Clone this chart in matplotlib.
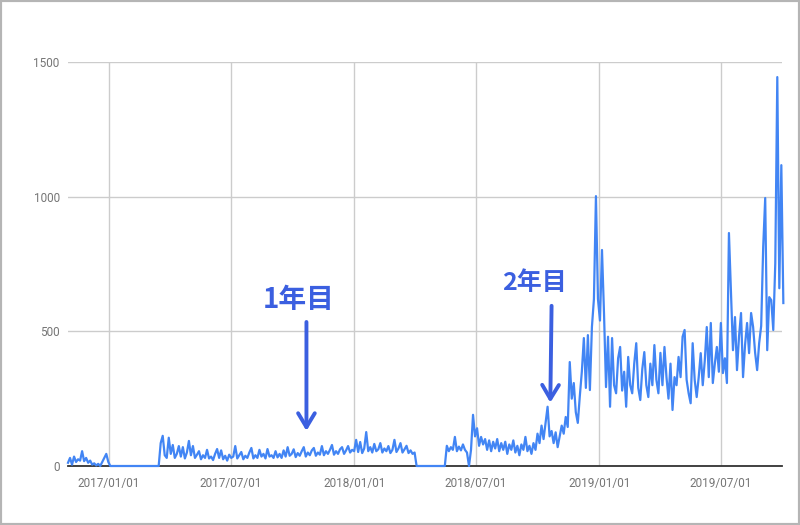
import pandas as pd
import matplotlib
matplotlib.use('Agg')
import matplotlib.pyplot as plt
import matplotlib.dates as mdates
from matplotlib.patches import Rectangle

# daily page views, every 3 days starting 2016-11-01
start = '2016-11-01'
step = '3D'

# late 2016, first try
seg_a = [12, 30, 5, 35, 15, 25, 20, 55, 18, 30, 12, 20, 5, 10, 2, 8, 0, 15, 30, 45, 15]
gap_1 = [0] * 25   # nothing until mid March 2017
# first year
seg_b = [85, 112, 40, 30, 105, 45, 78, 30, 45, 74, 35, 70, 28, 50, 93, 40, 74, 30, 42, 55,
         25, 40, 30, 60, 28, 35, 22, 45, 63, 30, 58, 25, 38, 20, 42, 30, 35, 74, 28, 40,
         52, 25, 38, 30, 50, 67, 28, 40, 30, 60, 35, 45, 28, 63, 35, 40, 30, 55, 32, 45,
         30, 58, 35, 70, 38, 45, 62, 33, 48, 38, 55, 70, 35, 50, 40, 58, 67, 38, 50, 42,
         74, 40, 55, 45, 60, 78, 42, 55, 45, 62, 70, 45, 58, 74, 50, 60, 55, 97, 52, 89,
         48, 65, 126, 55, 70, 50, 82, 55, 62, 85, 50, 65, 55, 74, 48, 60, 97, 52, 65, 85,
         50, 62, 75, 48, 58, 45, 50]
gap_2 = [0] * 15   # April - May 2018 gap
# second year onwards
seg_c = [75, 55, 70, 60, 108, 55, 72, 58, 80, 60, 50, 0, 60, 190, 110, 140, 75, 108, 80, 100,
         60, 95, 55, 90, 65, 100, 55, 85, 60, 90, 45, 80, 60, 95, 50, 75, 40, 80, 60, 108,
         55, 75, 45, 85, 60, 120, 85, 150, 100, 160, 220, 110, 130, 85, 125, 70, 110, 150, 120, 182,
         145, 386, 250, 308, 200, 160, 260, 350, 475, 290, 486, 282, 516, 620, 1002, 620, 540, 802, 568, 293,
         480, 220, 475, 300, 270, 400, 442, 280, 350, 220, 405, 300, 270, 380, 456, 290, 245, 360, 423, 300,
         256, 380, 300, 449, 320, 270, 420, 300, 442, 330, 250, 380, 208, 330, 300, 405, 330, 480, 505, 320,
         270, 233, 456, 320, 256, 330, 419, 300, 390, 516, 330, 531, 308, 380, 442, 350, 531, 345, 400, 308,
         865, 642, 430, 553, 356, 480, 568, 330, 450, 531, 419, 568, 516, 420, 356, 456, 520, 813, 995, 430,
         627, 616, 505, 753, 1444, 660, 1117, 605]

values = seg_a + gap_1 + seg_b + gap_2 + seg_c
dates = pd.date_range(start, periods=len(values), freq=step)

yticks = [0, 500, 1000, 1500]
xticks = pd.to_datetime(['2017-01-01', '2017-07-01', '2018-01-01',
                         '2018-07-01', '2019-01-01', '2019-07-01'])

plt.rcParams['font.family'] = ['Roboto', 'DejaVu Sans']

fig = plt.figure(figsize=(8, 5.25), dpi=100)
ax = fig.add_axes([68/800, 59/525, 714/800, 404/525])

ax.plot(dates, values, color='#4285f4', lw=1.6, zorder=5, clip_on=False)

ax.set_ylim(0, 1500)
ax.set_xlim(pd.Timestamp('2016-11-01'), pd.Timestamp('2019-09-30'))
ax.set_yticks(yticks)
ax.set_xticks(xticks)
ax.xaxis.set_major_formatter(mdates.DateFormatter('%Y/%m/%d'))
ax.grid(True, color='#cccccc', lw=1)
ax.set_axisbelow(True)
ax.tick_params(length=0, labelsize=8.5, labelcolor='#757575')
ax.tick_params(axis='x', pad=8)
ax.tick_params(axis='y', pad=6)
for s in ['top', 'right', 'left']:
    ax.spines[s].set_visible(False)
ax.spines['bottom'].set_color('#333333')
ax.spines['bottom'].set_linewidth(1.3)
ax.spines['bottom'].set_zorder(4)

# hand-drawn notes
note_col = '#3b5fe0'
jp = ['Noto Sans CJK JP', 'DejaVu Sans']
ax.text(pd.Timestamp('2017-10-10'), 616, '1年目', family=jp, fontsize=20,
        fontweight='bold', color=note_col, ha='center', va='center')
ax.annotate('', xy=(pd.Timestamp('2017-10-22'), 120), xytext=(pd.Timestamp('2017-10-22'), 545),
            arrowprops=dict(arrowstyle='->,head_length=1.0,head_width=0.6', color=note_col, lw=2.8))
ax.text(pd.Timestamp('2018-09-27'), 679, '2年目', family=jp, fontsize=18,
        fontweight='bold', color=note_col, ha='center', va='center')
ax.annotate('', xy=(pd.Timestamp('2018-10-20'), 225), xytext=(pd.Timestamp('2018-10-22'), 605),
            arrowprops=dict(arrowstyle='->,head_length=1.0,head_width=0.6', color=note_col, lw=2.8))

fig.patches.append(Rectangle((0, 0), 1, 1, transform=fig.transFigure, fill=False,
                             edgecolor='#b5b5b5', lw=3))

fig.savefig('out.png', dpi=100)
